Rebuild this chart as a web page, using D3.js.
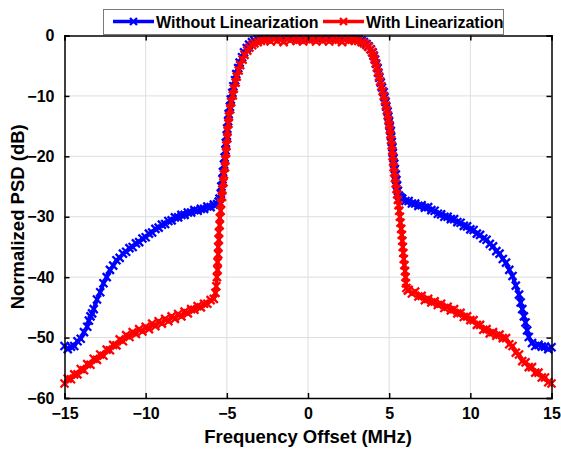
<!DOCTYPE html>
<html>
<head>
<meta charset="utf-8">
<script src="https://cdn.jsdelivr.net/npm/d3@7"></script>
<style>
  html, body { margin: 0; padding: 0; background: #fff; }
  svg { display: block; font-family: "Liberation Sans", Arial, sans-serif; }
</style>
</head>
<body>
<svg id="chart" width="561" height="450"></svg>
<script>
// Axis ticks
const xTicks = [-15, -10, -5, 0, 5, 10, 15];
const yTicks = [0, -10, -20, -30, -40, -50, -60];

// Series names
const seriesNames = ["Without Linearization", "With Linearization"];

// Without linearization: [frequency offset (MHz), normalized PSD (dB)]
const blueLeft = [
  [-15,-51.4],[-14.8,-51.9],[-14.6,-51.5],[-14.4,-51.4],[-14.2,-50.6],[-14,-50.2],[-13.8,-49.1],
  [-13.6,-48.2],[-13.5,-47.2],[-13.4,-46.5],[-13.3,-46.0],[-13.2,-45.3],[-13,-43.7],[-12.8,-42.5],
  [-12.6,-41.0],[-12.4,-40.0],[-12.2,-38.8],[-12,-38.1],[-11.8,-37.2],[-11.6,-36.8],[-11.4,-36.1],
  [-11.2,-35.8],[-11,-35.2],[-10.8,-35.0],[-10.6,-34.4],[-10.4,-34.2],[-10.2,-33.6],[-10,-33.4],
  [-9.8,-32.8],[-9.6,-32.6],[-9.4,-32.0],[-9.2,-31.8],[-9,-31.3],[-8.8,-31.2],[-8.6,-30.7],
  [-8.4,-30.6],[-8.2,-30.1],[-8,-30.1],[-7.8,-29.7],[-7.6,-29.7],[-7.4,-29.3],[-7.2,-29.3],
  [-7,-28.9],[-6.8,-29.0],[-6.6,-28.7],[-6.4,-28.7],[-6.2,-28.3],[-6,-28.4],[-5.8,-28.0],[-5.6,-27.9]
];
const blueCenter = [
  [-5.5,-27.5],[-5.45,-27.0],[-5.37,-26.2],[-5.34,-25.0],[-5.27,-23.8],[-5.24,-22.6],[-5.17,-21.4],
  [-5.14,-20.2],[-5.08,-19.0],[-5.06,-17.8],[-5.0,-16.6],[-4.98,-15.4],[-4.92,-14.2],[-4.89,-13.0],
  [-4.81,-11.8],[-4.76,-10.6],[-4.66,-9.5],[-4.6,-8.4],[-4.49,-7.4],[-4.42,-6.4],[-4.3,-5.4],
  [-4.21,-4.5],[-4.06,-3.6],[-3.94,-2.8],[-3.77,-2.1],[-3.63,-1.5],[-3.45,-1.1],[-3.3,-0.8],
  [-3.1,-0.6],[-2.9,-0.5],[-2.7,-0.4],
  [-2.5,-0.3],[-2.3,-0.1],[-2.1,-0.4],[-1.9,-0.2],[-1.7,-0.5],[-1.5,-0.2],[-1.3,-0.3],[-1.1,-0.1],
  [-0.9,-0.4],[-0.7,-0.3],[-0.5,-0.2],[-0.3,-0.5],[-0.1,-0.2],[0.1,-0.3],[0.3,-0.1],[0.5,-0.4],
  [0.7,-0.2],[0.9,-0.3],[1.1,-0.5],[1.3,-0.2],[1.5,-0.1],[1.7,-0.4],[1.9,-0.3],[2.1,-0.2],
  [2.3,-0.4],[2.5,-0.3],
  [2.7,-0.4],[2.9,-0.5],[3.1,-0.6],[3.3,-0.8],[3.45,-1.1],[3.6,-1.4],[3.74,-1.8],[3.87,-2.3],
  [3.98,-2.8],[4.06,-3.4],[4.13,-4.0],[4.2,-4.7],[4.29,-5.4],[4.34,-6.2],[4.39,-7.0],[4.48,-7.8],
  [4.56,-8.6],[4.66,-9.4],[4.71,-10.2],[4.78,-11.0],[4.82,-11.8],[4.9,-12.6],[4.95,-13.4],
  [5.0,-14.2],[5.04,-15.0],[5.1,-15.8],[5.12,-16.7],[5.16,-17.6],[5.2,-18.5],[5.22,-19.4],
  [5.27,-20.3],[5.31,-21.2],[5.35,-22.1],[5.41,-23.0],[5.44,-23.9],[5.49,-24.8],[5.54,-25.7],
  [5.6,-26.5],[5.7,-26.8]
];
const blueRight = [
  [5.8,-27.0],[6,-27.4],[6.2,-27.4],[6.4,-27.8],[6.6,-27.8],[6.8,-28.2],[7,-28.1],[7.2,-28.5],
  [7.4,-28.4],[7.6,-28.9],[7.8,-29.0],[8,-29.5],[8.2,-29.6],[8.4,-30.0],[8.6,-30.0],[8.8,-30.4],
  [9,-30.4],[9.2,-30.9],[9.4,-31.0],[9.6,-31.5],[9.8,-31.6],[10,-32.1],[10.2,-32.2],[10.4,-32.8],
  [10.6,-33.0],[10.8,-33.6],[11,-33.8],[11.2,-34.5],[11.4,-34.9],[11.6,-35.7],[11.8,-36.1],
  [12,-37.0],[12.2,-37.6],[12.4,-38.8],[12.6,-39.8],[12.8,-41.4],[13,-42.9],[13.1,-44.2],
  [13.2,-45.3],[13.3,-46.5],[13.4,-47.5],[13.5,-48.8],[13.6,-49.9],[13.8,-50.9],[14,-51.4],
  [14.2,-51.2],[14.4,-51.5],[14.6,-51.5],[14.8,-51.9],[15,-51.6]
];

// With linearization: [frequency offset (MHz), normalized PSD (dB)]
const redLeft = [
  [-15,-57.6],[-14.8,-56.8],[-14.6,-56.9],[-14.4,-56.1],[-14.2,-56.1],[-14,-55.2],[-13.8,-55.4],
  [-13.6,-54.4],[-13.4,-54.5],[-13.2,-53.5],[-13,-53.7],[-12.8,-52.8],[-12.6,-53.0],[-12.4,-52.0],
  [-12.2,-52.1],[-12,-51.2],[-11.8,-51.3],[-11.6,-50.3],[-11.4,-50.6],[-11.2,-49.6],[-11,-49.9],
  [-10.8,-49.1],[-10.6,-49.4],[-10.4,-48.6],[-10.2,-49.0],[-10,-48.2],[-9.8,-48.6],[-9.6,-47.7],
  [-9.4,-48.1],[-9.2,-47.3],[-9,-47.7],[-8.8,-46.9],[-8.6,-47.3],[-8.4,-46.5],[-8.2,-46.9],
  [-8,-46.1],[-7.8,-46.5],[-7.6,-45.7],[-7.4,-46.0],[-7.2,-45.3],[-7,-45.4],[-6.8,-44.8],
  [-6.6,-45.0],[-6.4,-44.4],[-6.2,-44.4],[-6,-43.8],[-5.8,-43.6]
];
const redCenter = [
  [-5.7,-42.6],[-5.65,-41.5],[-5.61,-40.0],[-5.57,-38.8],[-5.57,-37.5],[-5.53,-36.2],[-5.53,-35.0],
  [-5.49,-33.8],[-5.49,-32.6],[-5.44,-31.4],[-5.43,-30.2],[-5.38,-29.0],[-5.36,-27.8],[-5.3,-26.7],
  [-5.28,-25.5],[-5.21,-24.3],[-5.18,-23.0],[-5.11,-21.8],[-5.09,-20.6],[-5.04,-19.4],[-5.03,-18.2],
  [-4.97,-17.0],[-4.96,-15.8],[-4.9,-14.6],[-4.87,-13.4],[-4.79,-12.2],[-4.73,-11.0],[-4.63,-9.9],
  [-4.57,-8.8],[-4.46,-7.8],[-4.39,-6.8],[-4.27,-5.8],[-4.18,-4.9],[-4.03,-4.0],[-3.91,-3.2],
  [-3.74,-2.5],[-3.61,-2.0],[-3.44,-1.6],[-3.3,-1.3],[-3.1,-1.1],[-2.9,-0.9],[-2.7,-0.8],
  [-2.5,-0.6],[-2.3,-1.0],[-2.1,-0.5],[-1.9,-0.9],[-1.7,-0.6],[-1.5,-1.1],[-1.3,-0.5],[-1.1,-0.8],
  [-0.9,-0.4],[-0.7,-0.9],[-0.5,-0.7],[-0.3,-1.0],[-0.1,-0.5],[0.1,-0.8],[0.3,-0.6],[0.5,-1.0],
  [0.7,-0.4],[0.9,-0.9],[1.1,-0.6],[1.3,-1.0],[1.5,-0.5],[1.7,-0.8],[1.9,-0.7],[2.1,-1.1],
  [2.3,-0.5],[2.5,-0.9],
  [2.7,-0.7],[2.9,-0.8],[3.1,-0.9],[3.3,-1.1],[3.45,-1.3],[3.6,-1.6],[3.72,-1.9],[3.85,-2.3],
  [3.95,-2.8],[4.03,-3.3],[4.1,-3.9],[4.17,-4.6],[4.24,-5.3],[4.31,-6.1],[4.38,-6.8],[4.45,-7.6],
  [4.52,-8.4],[4.6,-9.2],[4.67,-10.0],[4.74,-10.8],[4.8,-11.6],[4.86,-12.4],[4.91,-13.2],
  [4.96,-14.0],[5.0,-14.8],[5.04,-15.6],[5.08,-16.4],[5.12,-17.3],[5.16,-18.2],[5.19,-19.1],
  [5.22,-20.0],[5.25,-20.9],[5.28,-21.8],[5.32,-22.7],[5.36,-23.6],[5.4,-24.5],[5.45,-25.4],
  [5.5,-26.3],[5.54,-27.2],[5.58,-28.1],[5.62,-29.0],[5.66,-30.0],[5.7,-31.0],[5.74,-32.0],
  [5.78,-33.0],[5.81,-34.0],[5.84,-35.0],[5.87,-36.0],[5.9,-37.0],[5.94,-38.0],[5.98,-39.0],
  [6.01,-40.0],[6.03,-41.0],[6.06,-41.8],[6.15,-42.2]
];
const redRight = [
  [6.2,-42.1],[6.4,-42.7],[6.6,-42.4],[6.8,-43.2],[7,-43.1],[7.2,-43.8],[7.4,-43.6],[7.6,-44.2],
  [7.8,-44.0],[8,-44.6],[8.2,-44.4],[8.4,-45.1],[8.6,-44.9],[8.8,-45.5],[9,-45.3],[9.2,-46.0],
  [9.4,-45.9],[9.6,-46.6],[9.8,-46.5],[10,-47.1],[10.2,-47.1],[10.4,-47.9],[10.6,-47.9],
  [10.8,-48.7],[11,-48.6],[11.2,-49.3],[11.4,-49.1],[11.6,-49.7],[11.8,-49.5],[12,-50.1],
  [12.2,-50.1],[12.4,-51.1],[12.6,-51.4],[12.8,-52.5],[13,-52.8],[13.2,-53.9],[13.4,-54.1],
  [13.6,-54.9],[13.8,-54.9],[14,-55.8],[14.2,-55.8],[14.4,-56.6],[14.6,-56.6],[14.8,-57.4],
  [15,-57.6]
];

const withoutLin = blueLeft.concat(blueCenter, blueRight);
const withLin = redLeft.concat(redCenter, redRight);

const svg = d3.select("#chart");
const margin = { left: 64.5, right: 9.5, top: 35.5, bottom: 52 };
const W = 561, H = 450;
const x = d3.scaleLinear().domain([-15, 15]).range([margin.left, W - margin.right]);
const y = d3.scaleLinear().domain([-60, 0]).range([H - margin.bottom, margin.top]);

const FONT = "'Liberation Sans', Arial, sans-serif";
const plot = svg.append("g");

// Grid
plot.append("g").selectAll("line").data(xTicks.slice(1, -1)).join("line")
  .attr("x1", d => x(d)).attr("x2", d => x(d))
  .attr("y1", y(-60)).attr("y2", y(0))
  .attr("stroke", "#dedede").attr("stroke-width", 1);
plot.append("g").selectAll("line").data(yTicks.slice(1, -1)).join("line")
  .attr("x1", x(-15)).attr("x2", x(15))
  .attr("y1", d => y(d)).attr("y2", d => y(d))
  .attr("stroke", "#dedede").attr("stroke-width", 1);

// Clip data to the axes box
svg.append("defs").append("clipPath").attr("id", "clip")
  .append("rect").attr("x", x(-15) - 6).attr("y", y(0) - 6)
  .attr("width", x(15) - x(-15) + 12).attr("height", y(-60) - y(0) + 12);

const line = d3.line().x(d => x(d[0])).y(d => y(d[1]));
const cross = "M-4,-4L4,4M-4,4L4,-4";
const legendCross = "M-3.5,-3.5L3.5,3.5M-3.5,3.5L3.5,-3.5";

function drawSeries(data, color) {
  const g = plot.append("g").attr("clip-path", "url(#clip)");
  g.append("path").datum(data).attr("d", line)
    .attr("fill", "none").attr("stroke", color).attr("stroke-width", 4)
    .attr("stroke-linejoin", "round");
  g.selectAll("path.m").data(data).join("path").attr("class", "m")
    .attr("transform", d => `translate(${x(d[0])},${y(d[1])})`)
    .attr("d", cross).attr("stroke", color).attr("stroke-width", 2.3).attr("fill", "none");
}
drawSeries(withoutLin, "#0000ff");
drawSeries(withLin, "#ff0000");

// Axes (box with inward ticks)
const fontTick = `bold 16px ${FONT}`;
const xAxisB = d3.axisBottom(x).tickValues(xTicks).tickSize(-5).tickPadding(10).tickFormat(d3.format("d"));
const xAxisT = d3.axisTop(x).tickValues(xTicks).tickSize(-5).tickFormat("");
const yAxisL = d3.axisLeft(y).tickValues(yTicks).tickSize(-5).tickPadding(10).tickFormat(d3.format("d"));
const yAxisR = d3.axisRight(y).tickValues(yTicks).tickSize(-5).tickFormat("");

function styleAxis(g) {
  g.select(".domain").attr("stroke", "#000").attr("stroke-width", 1.5);
  g.selectAll(".tick line").attr("stroke", "#000").attr("stroke-width", 1.5);
  g.selectAll("text").style("font", fontTick).attr("fill", "#000");
}
svg.append("g").attr("transform", `translate(0,${y(-60)})`).call(xAxisB).call(styleAxis);
svg.append("g").attr("transform", `translate(0,${y(0)})`).call(xAxisT).call(styleAxis);
svg.append("g").attr("transform", `translate(${x(-15)},0)`).call(yAxisL).call(styleAxis);
svg.append("g").attr("transform", `translate(${x(15)},0)`).call(yAxisR).call(styleAxis);

// Axis titles
svg.append("text").attr("x", (x(-15) + x(15)) / 2).attr("y", 443)
  .attr("text-anchor", "middle").style("font", `bold 18.5px ${FONT}`)
  .text("Frequency Offset (MHz)");
svg.append("text").attr("transform", `translate(24,${(y(0) + y(-60)) / 2}) rotate(-90)`)
  .attr("text-anchor", "middle").style("font", `bold 18.5px ${FONT}`)
  .text("Normalized PSD (dB)");

// Legend
const leg = svg.append("g");
leg.append("rect").attr("x", 103.5).attr("y", 9.5).attr("width", 400).attr("height", 25)
  .attr("fill", "#fff").attr("stroke", "#7a7a7a").attr("stroke-width", 1);
const legItems = [
  { name: seriesNames[0], color: "#0000ff", x0: 113 },
  { name: seriesNames[1], color: "#ff0000", x0: 323 }
];
legItems.forEach(it => {
  leg.append("line").attr("x1", it.x0).attr("x2", it.x0 + 41).attr("y1", 21.5).attr("y2", 21.5)
    .attr("stroke", it.color).attr("stroke-width", 3.5);
  leg.append("path").attr("transform", `translate(${it.x0 + 20.5},21.5)`).attr("d", legendCross)
    .attr("stroke", it.color).attr("stroke-width", 2.3).attr("fill", "none");
  leg.append("text").attr("x", it.x0 + 43).attr("y", 27.5)
    .style("font", `bold 16px ${FONT}`).text(it.name);
});
</script>
</body>
</html>
